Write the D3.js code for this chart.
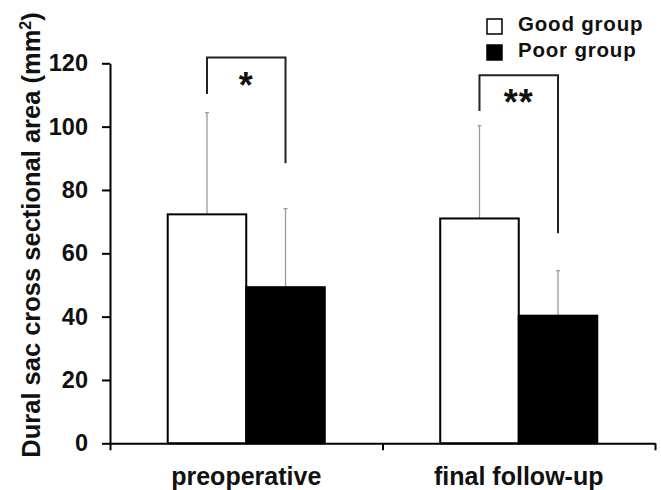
<!DOCTYPE html>
<html>
<head>
<meta charset="utf-8">
<script src="https://cdn.jsdelivr.net/npm/d3@7"></script>
<style>
	body { margin: 0; background: #fff; }
	text { font-family: "Liberation Sans", Arial, sans-serif; font-weight: bold; fill: #111; }
</style>
</head>
<body>
<svg id="chart" width="661" height="490"></svg>
<script>
(function(){

	//Chart data
	var categories = ["preoperative", "final follow-up"];
	var groups = ["Good group", "Poor group"];
	var goodMeans = [72.3, 71.0];
	var goodSD = [32.1, 29.3];
	var poorMeans = [49.3, 40.3];
	var poorSD = [24.8, 14.2];
	var yTicks = [0, 20, 40, 60, 80, 100, 120];

	//significance brackets (in data units)
	var sigLabels = ["*", "**"];
	var bracketTop = [121.8, 116.2];
	var bracketLeftEnd = [110.3, 104.9];
	var bracketRightEnd = [88.4, 66.3];

	//Layout
	var left = 110, right = 655, top = 63.3, bottom = 443.3;
	var groupFill = ["#ffffff", "#000000"];

	var svg = d3.select("#chart");

	var x = d3.scaleBand().domain(categories).range([left, right]).padding(0);
	var bar = d3.scaleBand().domain(groups).range([0, x.bandwidth()]).paddingInner(0).paddingOuter(0.735);
	var y = d3.scaleLinear().domain([0, 120]).range([bottom, top]);

	var rows = [];
	categories.forEach(function(c, i){
		rows.push({cat: c, group: groups[0], mean: goodMeans[i], sd: goodSD[i]});
		rows.push({cat: c, group: groups[1], mean: poorMeans[i], sd: poorSD[i]});
	});

	//Error bars (drawn first so the bar outline sits on top)
	var err = svg.append("g").attr("stroke", "#9a9a9a").attr("stroke-width", 1.3);
	rows.forEach(function(d){
		var cx = x(d.cat) + bar(d.group) + bar.bandwidth() / 2;
		err.append("line").attr("x1", cx).attr("x2", cx)
			.attr("y1", y(d.mean)).attr("y2", y(d.mean + d.sd));
		err.append("line").attr("x1", cx - 2).attr("x2", cx + 2)
			.attr("y1", y(d.mean + d.sd)).attr("y2", y(d.mean + d.sd));
	});

	//Bars
	svg.append("g").selectAll("rect")
		.data(rows)
		.enter()
		.append("rect")
		.attr("x", function(d){ return x(d.cat) + bar(d.group); })
		.attr("y", function(d){ return y(d.mean); })
		.attr("width", bar.bandwidth())
		.attr("height", function(d){ return bottom - y(d.mean); })
		.attr("fill", function(d){ return groupFill[groups.indexOf(d.group)]; })
		.attr("stroke", "#000")
		.attr("stroke-width", 2);

	//Y axis
	var yAxis = svg.append("g")
		.attr("transform", "translate(" + left + ",0)")
		.call(d3.axisLeft(y).tickValues(yTicks).tickSize(8).tickSizeOuter(0).tickPadding(14));
	yAxis.selectAll("line, path").attr("stroke", "#000").attr("stroke-width", 2);
	yAxis.selectAll("text").attr("font-size", 23.5).attr("font-family", null).attr("fill", "#111");

	//X axis: ticks at category boundaries, labels centred below
	var xEdge = d3.scaleLinear().domain([0, categories.length]).range([left, right]);
	var xAxis = svg.append("g")
		.attr("transform", "translate(0," + bottom + ")")
		.call(d3.axisBottom(xEdge).tickValues(d3.range(categories.length + 1)).tickSize(7).tickSizeOuter(0).tickFormat(""));
	xAxis.selectAll("line, path").attr("stroke", "#000").attr("stroke-width", 2);

	svg.append("g").selectAll("text")
		.data(categories)
		.enter()
		.append("text")
		.attr("x", function(d){ return x(d) + x.bandwidth() / 2; })
		.attr("y", 485)
		.attr("text-anchor", "middle")
		.attr("font-size", 25)
		.text(function(d){ return d; });

	//Y title
	var yTitle = svg.append("text")
		.attr("transform", "translate(39.5," + 235 + ") rotate(-90)")
		.attr("text-anchor", "middle")
		.attr("font-size", 25.5);
	yTitle.append("tspan").text("Dural sac cross sectional area (mm");
	yTitle.append("tspan").attr("dy", -9).attr("font-size", 16).text("2");
	yTitle.append("tspan").attr("dy", 9).text(")");

	//Significance brackets
	categories.forEach(function(c, i){
		var x1 = x(c) + bar(groups[0]) + bar.bandwidth() / 2;
		var x2 = x(c) + bar(groups[1]) + bar.bandwidth() / 2;
		var pts = [[x1, y(bracketLeftEnd[i])], [x1, y(bracketTop[i])], [x2, y(bracketTop[i])], [x2, y(bracketRightEnd[i])]];
		svg.append("path")
			.attr("d", d3.line()(pts))
			.attr("fill", "none")
			.attr("stroke", "#222")
			.attr("stroke-width", 2);
		svg.append("text")
			.attr("x", (x1 + x2) / 2)
			.attr("y", y(bracketTop[i]) + 40)
			.attr("text-anchor", "middle")
			.attr("font-size", 36)
			.attr("letter-spacing", 1)
			.text(sigLabels[i]);
	});

	//Legend
	var legend = svg.append("g").attr("transform", "translate(487,19)");
	groups.forEach(function(g, i){
		legend.append("rect")
			.attr("x", 0)
			.attr("y", i * 26)
			.attr("width", 15)
			.attr("height", 15)
			.attr("fill", groupFill[i])
			.attr("stroke", "#000")
			.attr("stroke-width", 1.5);
		legend.append("text")
			.attr("x", 31)
			.attr("y", i * 26 + 11.5)
			.attr("font-size", 20.5)
			.attr("letter-spacing", 0.8)
			.text(g);
	});

})();
</script>
</body>
</html>
